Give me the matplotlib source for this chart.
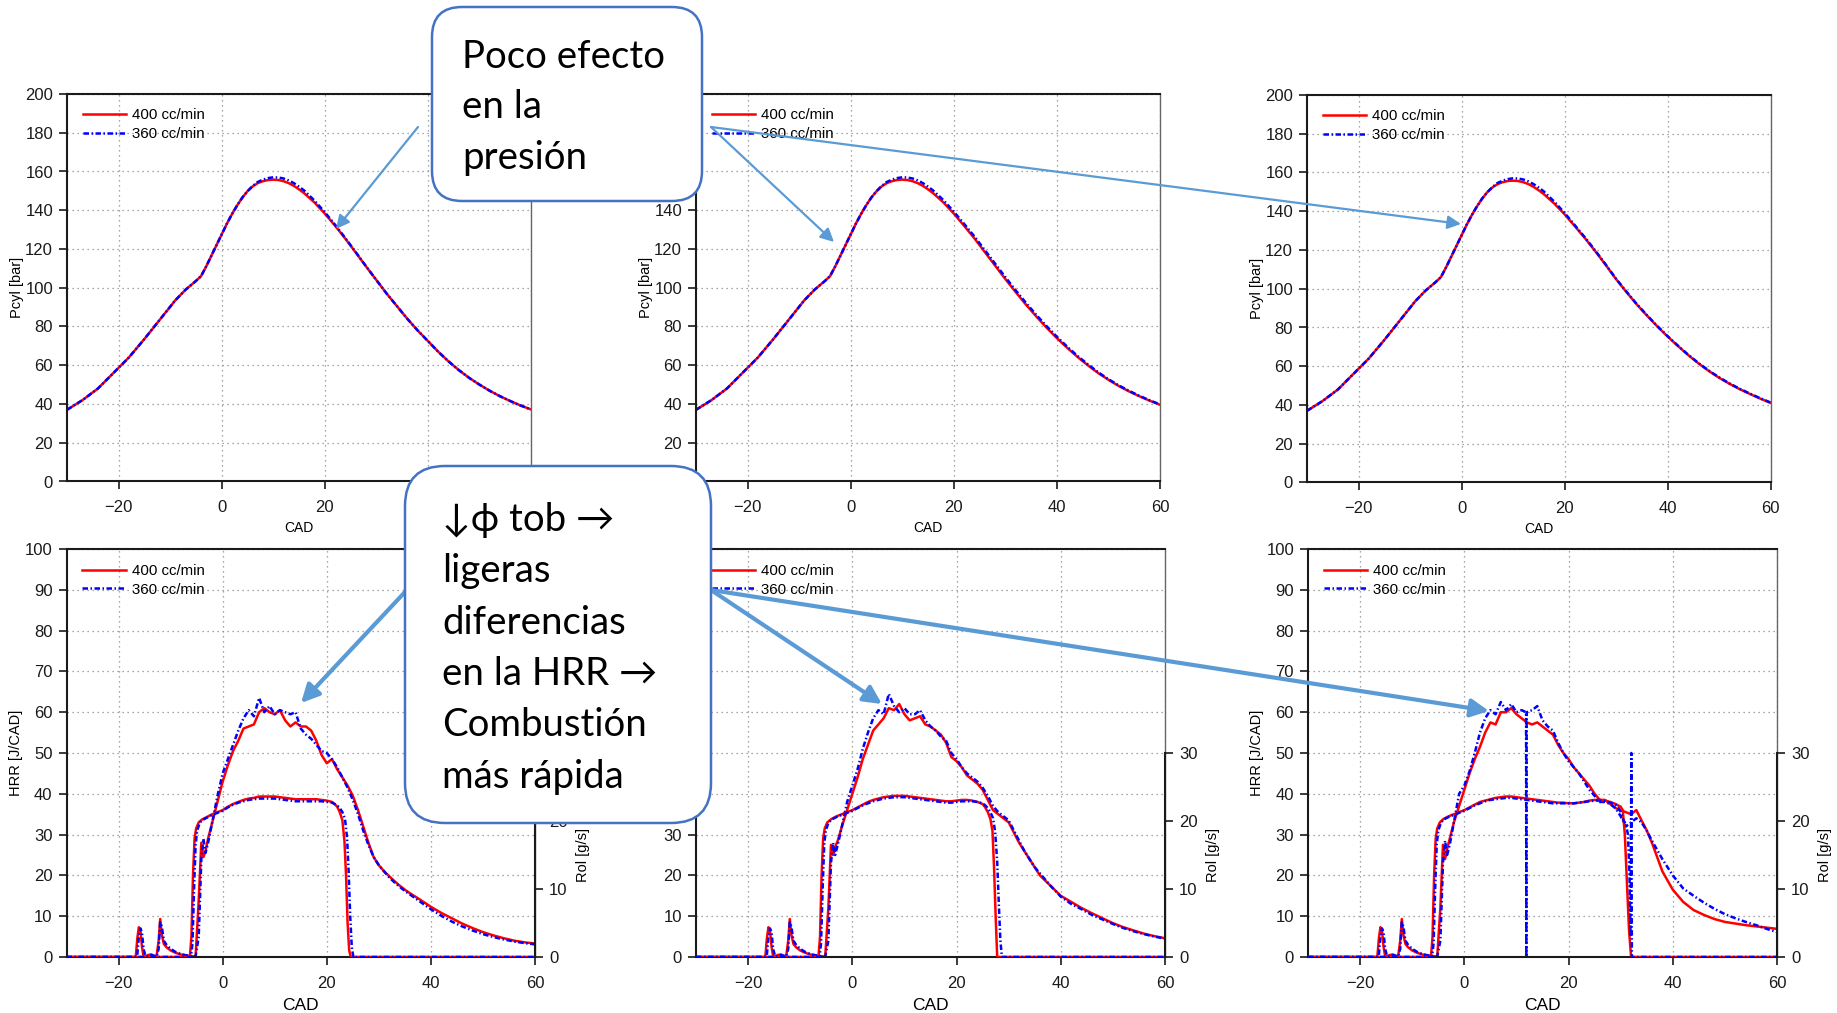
import numpy as np
import matplotlib
matplotlib.use('Agg')
import matplotlib.pyplot as plt
from matplotlib.patches import FancyBboxPatch

plt.rcParams['font.family'] = ['Liberation Sans', 'DejaVu Sans']

# ---------------- data ----------------
labels = ['400 cc/min', '360 cc/min']

# in-cylinder pressure [bar] vs CAD; rising part shared by the three tests
p_cad = [-30, -27, -24, -21, -18, -15, -12, -9, -7, -5, -4, -3, -2, -1,
         0, 1, 2, 3, 4, 5, 6, 7, 8, 9, 10, 11, 12, 13, 14, 15, 16,
         18, 20, 22, 24, 26, 28, 30, 32, 34, 36, 38, 40, 42, 44, 46, 48, 50, 52, 54, 56, 58, 60]
p_rise_400 = [37, 42, 48, 56, 64, 73.5, 83.5, 93.5, 99, 103.5, 106, 111, 116.5, 122,
              127.5, 133, 138, 142.5, 146.5, 149.8, 152.3, 154, 155, 155.6, 155.8, 155.6, 155, 154, 152.6, 150.8, 148.8]
p_rise_360 = [37, 42, 48, 56, 64, 73.5, 83.5, 93.5, 99, 103.5, 106, 111, 116.5, 122,
              127.5, 133, 138, 142.5, 146.5, 149.8, 152.5, 154.6, 155.8, 156.6, 157, 156.9, 156.4, 155.4, 154, 152.2, 150.2]
p_tail_a_400 = [144, 138.3, 132, 125.3, 118.2, 111, 104, 97, 90.5, 84, 78, 72.5, 67, 62, 57.5, 53.5, 50, 46.8, 44, 41.5, 39.2, 37.2]
p_tail_a_360 = [145, 139, 132.5, 125.6, 118.4, 111.1, 104, 97, 90.5, 84, 78, 72.5, 67, 62, 57.5, 53.5, 50, 46.8, 44, 41.5, 39.2, 37.2]
p_tail_b_400 = [144, 138.3, 132, 125.5, 118.5, 111.5, 104.5, 97.8, 91.3, 85.2, 79.4, 74, 69, 64.3, 60, 56, 52.5, 49.3, 46.5, 44, 41.7, 39.6]
p_tail_b_360 = [145.2, 139.3, 133, 126.5, 119.5, 112.5, 105.5, 98.7, 92.2, 86, 80.2, 74.7, 69.6, 64.8, 60.5, 56.4, 52.8, 49.6, 46.8, 44.2, 41.9, 39.8]
p_tail_c_400 = [144, 138.5, 132.3, 126, 119.3, 112.3, 105, 98.4, 92, 86.2, 80.6, 75.4, 70.5, 65.8, 61.5, 57.6, 54.1, 51, 48.2, 45.7, 43.3, 41.1]
p_tail_c_360 = [145, 139.2, 132.8, 126.4, 119.6, 112.5, 105.2, 98.6, 92.2, 86.4, 80.8, 75.6, 70.7, 66, 61.7, 57.8, 54.3, 51.2, 48.4, 45.9, 43.5, 41.3]

# heat release rate [J/CAD]: pilot part (same in all three), then main part
hrr_pilot_cad = [-30, -16.7, -16.4, -16.1, -15.8, -15.5, -15.2, -14.8, -14.3, -13.7, -13.2,
                 -12.7, -12.3, -12.0, -11.7, -11.3, -10.8, -10.0, -9.0, -8.0, -7.0, -6.0]
hrr_pilot_400 = [0, 0, 4.5, 7.3, 6.5, 2.5, 0.2, 0.1, 0.5, 0.6, 0.3, 0.1, 4.0, 9.3, 5.5, 3.2, 2.4, 1.6, 1.0, 0.6, 0.4, 0.2]
hrr_pilot_360 = [0, 0, 0.5, 5.0, 7.0, 6.0, 2.0, 0.1, 0.3, 0.5, 0.3, 0.1, 2.0, 8.5, 7.5, 4.0, 3.0, 2.0, 1.2, 0.7, 0.4, 0.2]
hrr_main_cad = [-5.2, -4.6, -4.1, -3.7, -3.3, -2.8, -2.0, -1.0] + list(range(0, 37)) + list(range(38, 61, 2))

hrr_a_400 = [0.1, 14, 28, 24.5, 26, 29, 33, 38,
             43, 47, 50.5, 53, 56, 56.5, 57, 60, 61, 60, 59.5, 60.5, 58, 56.5, 57.5, 56.5, 56.5, 55.5, 53, 49.5,
             47.5, 48.5, 46, 44, 42, 39.5, 36, 32, 28, 24.5, 22.5, 21, 19.8, 18.6, 17.5, 16.5, 15.6,
             14, 12.3, 10.8, 9.5, 8.2, 7.1, 6.1, 5.3, 4.6, 4.0, 3.6, 3.3]
hrr_a_360 = [0.1, 5, 24, 29, 25.5, 28, 33, 39.5,
             45, 48.5, 52, 55.5, 58.5, 60.5, 59, 63.5, 60, 61.5, 59.5, 60.5, 60, 59.5, 60, 56, 54.5, 53.5, 52, 50.5,
             50, 48.5, 46.5, 44, 41.5, 38.5, 35, 31, 27.5, 24.5, 22.5, 21, 19.5, 18.3, 17.2, 16.2, 15.3,
             13.5, 11.7, 10.1, 8.7, 7.5, 6.5, 5.6, 4.9, 4.3, 3.8, 3.4, 3.1]
hrr_b_400 = [0.1, 12, 27.5, 25, 27, 28.5, 32, 36,
             40, 44, 48.5, 52, 55.5, 57, 58.5, 61, 60.5, 62, 59.5, 58, 58.5, 59, 57, 56.5, 55.5, 54.5, 52.5, 49,
             48, 46.5, 44.5, 43.5, 42.5, 41, 38.5, 36, 35, 34, 33, 30.5, 28, 26, 24, 22, 20,
             17.5, 15, 13.5, 12, 10.7, 9.5, 8.3, 7.3, 6.5, 5.7, 5.1, 4.6]
hrr_b_360 = [0.1, 4, 23, 28, 25, 27.5, 32, 38,
             42, 46, 51, 55, 58.5, 60.5, 59.5, 64.5, 61.5, 60, 61, 59.5, 59.5, 60.5, 58, 56.5, 55.5, 54, 53, 50,
             48.5, 46.5, 45, 44, 43, 41.5, 39.5, 37, 35.5, 34.5, 33.5, 31, 28.5, 26, 24, 22, 20.5,
             17.5, 14.8, 13, 11.7, 10.3, 9.2, 8.1, 7.1, 6.3, 5.6, 5.0, 4.5]
hrr_c_400 = [0.1, 12, 27.5, 24, 26.5, 29, 33, 37,
             41, 45, 48.5, 51.5, 55, 57.5, 57, 60, 60, 61, 59.5, 58.5, 57.5, 57, 57.5, 56.5, 55.5, 54.5, 52, 50,
             48.5, 46.5, 45, 43.5, 42, 40, 38.5, 38.5, 37.5, 36.5, 36, 35.5, 35, 36, 33.5, 31, 28,
             21, 16.5, 13.5, 11.5, 10.3, 9.3, 8.6, 8.2, 7.8, 7.5, 7.2, 6.9]
hrr_c_360 = [0.1, 4, 23, 28.5, 25, 27.5, 33, 40,
             42, 45.5, 50, 55, 58.5, 60.5, 59.5, 62.5, 60.5, 62, 60, 60.5, 60, 60.5, 61.5, 58, 56.5, 55.5, 52.5, 50,
             48, 46.5, 45, 43, 41, 39.5, 38, 38, 37.5, 36.5, 34.5, 32, 33, 34, 33, 31, 28.5,
             24, 20, 16.8, 15, 13.3, 11.8, 10.5, 9.5, 8.6, 7.8, 6.9, 6.1]
# single-sample drop-out of the 360 cc/min HRR signal in the third test
glitch_cad = [11.85, 11.9, 11.95]
glitch_val = [60, 0, 60]

# rate of injection [g/s] (right axis)
rol_a_cad_400 = [-30, -6.3, -6.0, -5.7, -5.4, -5.1, -4.6, -4.0] + list(range(-3, 22)) + \
                [21.5, 22, 22.5, 23, 23.4, 23.7, 24.0, 24.3, 24.6, 60]
rol_a_400 = [0, 0, 3, 12, 17.4, 18.9, 19.8, 20.2,
             20.6, 21.0, 21.3, 21.6, 22.1, 22.5, 22.8, 23.1, 23.3, 23.4, 23.6, 23.6, 23.6, 23.6, 23.5, 23.4, 23.3,
             23.2, 23.2, 23.2, 23.2, 23.2, 23.1, 23.0, 22.8,
             22.5, 22.1, 21.3, 20.1, 17.0, 12.0, 5.0, 1.0, 0, 0]
rol_a_cad_360 = [-30, -6.1, -5.8, -5.5, -5.2, -4.9, -4.4, -4.0] + list(range(-3, 22)) + \
                [21.5, 22, 22.5, 23, 23.5, 23.9, 24.2, 24.5, 24.8, 25.1, 60]
rol_a_360 = [0, 0, 2, 10, 16.5, 18.6, 19.7, 20.1,
             20.5, 20.9, 21.2, 21.5, 22.0, 22.4, 22.7, 22.9, 23.1, 23.2, 23.3, 23.3, 23.3, 23.3, 23.2, 23.1, 23.0,
             22.9, 22.9, 22.9, 22.9, 22.9, 22.9, 22.8, 22.7,
             22.5, 22.3, 21.9, 21.3, 20.3, 17.5, 12.5, 6.0, 1.5, 0, 0]
rol_b_cad_400 = [-30, -6.5, -6.2, -5.9, -5.6, -5.3, -4.8, -4.0] + list(range(-3, 26)) + \
                [25.5, 26, 26.5, 26.9, 27.2, 27.5, 27.8, 60]
rol_b_400 = [0, 0, 3, 12, 17.4, 18.9, 19.8, 20.3,
             20.7, 21.0, 21.3, 21.6, 22.0, 22.4, 22.8, 23.1, 23.3, 23.5, 23.6, 23.7, 23.7, 23.7, 23.6, 23.5, 23.4,
             23.3, 23.2, 23.1, 23.0, 22.9, 22.9, 23.0, 23.1, 23.1, 23.0, 22.8, 22.5,
             22.0, 21.3, 20.3, 18.5, 13.0, 6.0, 0, 0]
rol_b_cad_360 = [-30, -6.3, -6.0, -5.7, -5.4, -5.1, -4.6, -4.0] + list(range(-3, 26)) + \
                [25.5, 26, 26.5, 27, 27.4, 27.8, 28.1, 28.4, 28.7, 60]
rol_b_360 = [0, 0, 2, 10, 16.5, 18.6, 19.7, 20.2,
             20.6, 20.9, 21.2, 21.5, 21.9, 22.3, 22.6, 22.9, 23.1, 23.3, 23.4, 23.5, 23.5, 23.5, 23.4, 23.3, 23.2,
             23.1, 23.0, 22.9, 22.8, 22.7, 22.7, 22.8, 22.9, 22.9, 22.9, 22.8, 22.6,
             22.3, 21.9, 21.3, 20.4, 18.5, 14.0, 8.0, 2.5, 0, 0]
rol_c_cad_400 = [-30, -6.4, -6.1, -5.8, -5.5, -5.2, -4.7, -4.0] + list(range(-3, 30)) + \
                [29.5, 30, 30.4, 30.8, 31.2, 31.6, 32.0, 60]
rol_c_400 = [0, 0, 3, 12, 17.4, 18.9, 19.8, 20.3,
             20.7, 21.0, 21.3, 21.6, 22.0, 22.4, 22.8, 23.0, 23.2, 23.4, 23.5, 23.6, 23.6, 23.5, 23.4, 23.3, 23.2,
             23.1, 23.0, 22.9, 22.8, 22.7, 22.7, 22.6, 22.6, 22.7, 22.8, 23.0, 23.1, 23.1, 23.0, 22.8, 22.5,
             22.3, 22.1, 21.6, 18.0, 11.0, 4.0, 0, 0]
rol_c_cad_360 = [-30, -6.2, -5.9, -5.6, -5.3, -5.0, -4.5, -4.0] + list(range(-3, 30)) + \
                [29.5, 30, 30.5, 31, 31.4, 31.7, 31.9, 32.05, 32.15, 60]
rol_c_360 = [0, 0, 2, 10, 16.5, 18.6, 19.7, 20.2,
             20.6, 20.9, 21.2, 21.5, 21.9, 22.3, 22.6, 22.9, 23.1, 23.2, 23.3, 23.4, 23.4, 23.3, 23.2, 23.1, 23.0,
             22.9, 22.8, 22.7, 22.6, 22.6, 22.6, 22.6, 22.6, 22.7, 22.8, 22.9, 23.0, 23.0, 22.9, 22.7, 22.4,
             22.0, 21.3, 20.2, 19.5, 18.0, 12.0, 3.0, 30.0, 0, 0]

callout_1 = ['Poco efecto', 'en la', 'presión']
callout_2 = ['↓ϕ tob →', 'ligeras', 'diferencias', 'en la HRR →', 'Combustión', 'más rápida']

# ---------------- figure ----------------
W, H = 1837, 1013
fig = plt.figure(figsize=(W / 100, H / 100), dpi=100)
fig.patch.set_facecolor('white')

RED = 'red'
BLUE = 'blue'
DASHDOT = (0, (2.2, 1.0, 0.6, 1.0))
LW = 1.8


def axes_px(x0, y0, x1, y1):
    return fig.add_axes([x0 / W, 1 - y1 / H, (x1 - x0) / W, (y1 - y0) / H])


def dress(ax, ylim, yticks, ylabel, xsize, xlab_y):
    ax.set_xlim(-30, 60)
    ax.set_ylim(*ylim)
    ax.set_xticks([-20, 0, 20, 40, 60])
    ax.set_yticks(yticks)
    ax.set_axisbelow(True)
    ax.grid(True, color='#8a8a8a', linestyle=(0, (1, 3)), linewidth=0.9)
    ax.tick_params(direction='out', length=6, width=1.2, labelsize=12, pad=4,
                   colors='#1a1a1a', top=False, right=False)
    ax.tick_params(axis='x', pad=7.5)
    for s in ['left', 'bottom', 'top']:
        ax.spines[s].set_color('#1a1a1a')
        ax.spines[s].set_linewidth(1.5)
    ax.spines['right'].set_color('#666666')
    ax.spines['right'].set_linewidth(1.0)
    ax.set_xlabel('CAD', fontsize=xsize)
    ax.xaxis.set_label_coords(0.5, xlab_y)
    ax.set_ylabel(ylabel, fontsize=10.5)
    ax.yaxis.set_label_coords(-0.093, 0.5)


def add_legend(ax, handles):
    ax.legend(handles, labels, loc='upper left', bbox_to_anchor=(0.034, 0.963),
              frameon=False, fontsize=10.8, handlelength=2.9, handletextpad=0.4,
              labelspacing=0.3, borderaxespad=0, borderpad=0)


data_axes = []

# top row: cylinder pressure
top_pos = [(67, 94, 531, 481.5), (696, 94, 1160, 481.5), (1307, 95, 1770.5, 482.5)]
pressure = [(p_rise_400 + p_tail_a_400, p_rise_360 + p_tail_a_360),
            (p_rise_400 + p_tail_b_400, p_rise_360 + p_tail_b_360),
            (p_rise_400 + p_tail_c_400, p_rise_360 + p_tail_c_360)]
for pos, (p400, p360) in zip(top_pos, pressure):
    ax = axes_px(*pos)
    l1, = ax.plot(p_cad, p400, color=RED, lw=LW)
    l2, = ax.plot(p_cad, p360, color=BLUE, lw=LW, linestyle=DASHDOT)
    dress(ax, (0, 200), list(range(0, 201, 20)), 'Pcyl [bar]', 10, -0.103)
    add_legend(ax, [l1, l2])
    data_axes.append(ax)


# bottom row: HRR (left) and rate of injection (right)
def with_extra(cad, val, extra_cad, extra_val):
    c = np.r_[cad, extra_cad]
    v = np.r_[val, extra_val]
    o = np.argsort(c, kind='stable')
    return c[o], v[o]


hrr_cad = hrr_pilot_cad + hrr_main_cad
c_cad_360, c_val_360 = with_extra(hrr_cad, hrr_pilot_360 + hrr_c_360, glitch_cad, glitch_val)
bottom = [
    (hrr_cad, hrr_pilot_400 + hrr_a_400, hrr_cad, hrr_pilot_360 + hrr_a_360,
     rol_a_cad_400, rol_a_400, rol_a_cad_360, rol_a_360),
    (hrr_cad, hrr_pilot_400 + hrr_b_400, hrr_cad, hrr_pilot_360 + hrr_b_360,
     rol_b_cad_400, rol_b_400, rol_b_cad_360, rol_b_360),
    (hrr_cad, hrr_pilot_400 + hrr_c_400, c_cad_360, c_val_360,
     rol_c_cad_400, rol_c_400, rol_c_cad_360, rol_c_360),
]
bot_pos = [(66.5, 549, 535, 957), (696, 549, 1165, 957), (1308, 549, 1777, 957)]
for pos, (hc4, h4, hc3, h3, rc4, r4, rc3, r3) in zip(bot_pos, bottom):
    ax = axes_px(*pos)
    l1, = ax.plot(hc4, h4, color=RED, lw=LW)
    l2, = ax.plot(hc3, h3, color=BLUE, lw=LW, linestyle=DASHDOT)
    dress(ax, (0, 100), list(range(0, 101, 10)), 'HRR [J/CAD]', 12.5, -0.100)
    add_legend(ax, [l1, l2])

    ax2 = ax.twinx()
    ax2.plot(rc4, r4, color=RED, lw=LW)
    ax2.plot(rc3, r3, color=BLUE, lw=LW, linestyle=DASHDOT)
    ax2.set_ylim(0, 60)
    ax2.set_yticks([0, 10, 20, 30])
    ax2.tick_params(axis='y', direction='out', length=6, width=1.2, labelsize=12, pad=4, colors='#1a1a1a')
    for s in ['left', 'bottom', 'top']:
        ax2.spines[s].set_visible(False)
    ax2.spines['right'].set_bounds(0, 30)
    ax2.spines['right'].set_color('#1a1a1a')
    ax2.spines['right'].set_linewidth(1.5)
    ax2.set_ylabel('Rol [g/s]', fontsize=10.5)
    ax2.yaxis.set_label_coords(1.087, 0.25)
    data_axes += [ax, ax2]

# ---------------- callouts and arrows ----------------
ov = fig.add_axes([0, 0, 1, 1], zorder=20)
ov.set_xlim(0, W)
ov.set_ylim(H, 0)
ov.axis('off')
ov.patch.set_alpha(0)

ARROW = '#5B9BD5'
EDGE = '#4472C4'
CALLOUT_FONT = ['Lato', 'DejaVu Sans']
boxes = [(432, 7, 702, 201, 30), (405, 466, 711, 823, 40)]


def arrow(p0, p1, lw, ms):
    ov.annotate('', xy=p1, xytext=p0, zorder=1,
                arrowprops=dict(arrowstyle='-|>', color=ARROW, lw=lw, mutation_scale=ms,
                                shrinkA=0, shrinkB=0))


arrow((418, 127), (336, 229), 1.6, 20)
arrow((711, 127), (834, 242), 1.6, 20)
arrow((711, 127), (1461, 224), 1.6, 20)
arrow((405, 592), (301, 703), 3.0, 27)
arrow((711, 590), (882, 704), 3.0, 27)
arrow((711, 590), (1489, 711), 3.0, 27)

for x0, y0, x1, y1, r in boxes:
    ov.add_patch(FancyBboxPatch((x0, y0), x1 - x0, y1 - y0,
                                boxstyle='round,pad=0,rounding_size=%d' % r,
                                fc='white', ec=EDGE, lw=1.8, zorder=3))

fig.canvas.draw()
rend = fig.canvas.get_renderer()


def hidden(t):
    # True when a text lies completely under one of the callout boxes
    bb = t.get_window_extent(rend)
    for x0, y0, x1, y1, r in boxes:
        if bb.x0 >= x0 and bb.x1 <= x1 and bb.y0 >= H - y1 and bb.y1 <= H - y0:
            return True
    return False


for ax in data_axes:
    for axis in (ax.xaxis, ax.yaxis):
        if not axis.get_ticklabels()[0].get_visible() and not axis.get_ticklabels()[-1].get_visible():
            continue
        locs = list(axis.get_majorticklocs())
        texts = [lab.get_text() if not hidden(lab) else '' for lab in axis.get_ticklabels()]
        if '' in texts:
            axis.set_ticks(locs, labels=texts)
        if axis.label.get_text() and hidden(axis.label):
            axis.label.set_visible(False)

# size the callout text so that 'Combustión' spans about 205 px, as in the picture
probe = ov.text(0, 0, 'Combustión', fontsize=28, family=CALLOUT_FONT)
fs = 28 * 205 / probe.get_window_extent(rend).width
probe.remove()

for i, line in enumerate(callout_1):
    ov.text(462, 67.5 + 50.7 * i, line, fontsize=fs, family=CALLOUT_FONT,
            va='baseline', ha='left', color='black', zorder=4)
for i, line in enumerate(callout_2):
    ov.text(442, 531 + 51.3 * i, line, fontsize=fs, family=CALLOUT_FONT,
            va='baseline', ha='left', color='black', zorder=4)

fig.savefig('out.png', dpi=100, facecolor='white')
